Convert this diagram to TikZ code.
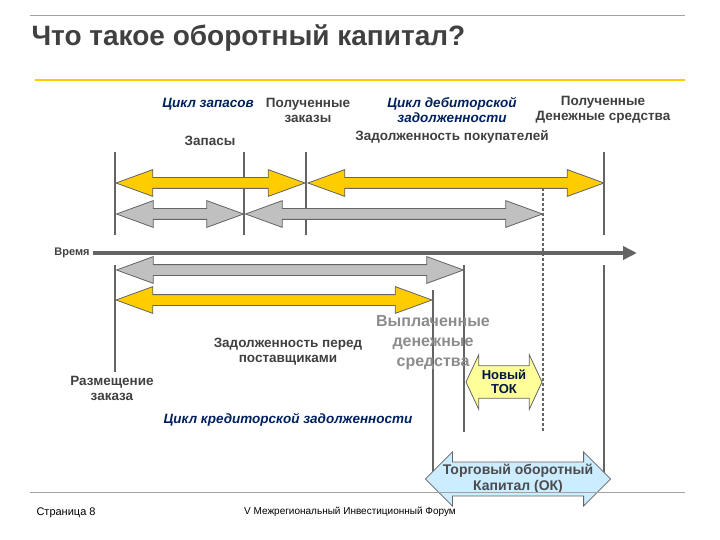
\documentclass[tikz,border=0pt]{standalone}
\usepackage{fontspec}
\setmainfont{Liberation Sans}
\usetikzlibrary{positioning,shapes.arrows,arrows.meta}
\definecolor{Amarillo}{RGB}{255,204,0}
\definecolor{Gris}{RGB}{192,192,192}
\definecolor{Borde}{RGB}{100,100,100}
\definecolor{Azul}{RGB}{0,32,96}
\definecolor{Celeste}{RGB}{204,236,255}
\definecolor{Limon}{RGB}{255,255,153}
\tikzstyle{Flecha}=[double arrow, draw=Borde, thick, inner xsep=0pt, inner ysep=5pt, double arrow head extend=8pt, double arrow tip angle=40, anchor=center]
\tikzstyle{FlechaAm}=[Flecha, fill=Amarillo]
\tikzstyle{FlechaGr}=[Flecha, fill=Gris]
\tikzstyle{Linea}=[draw=Borde, line width=2.5pt]
\tikzstyle{Etiqueta}=[font=\fontsize{13.5}{15}\selectfont\bfseries, text=black!75, align=center]
\tikzstyle{Ciclo}=[font=\fontsize{13.5}{15}\selectfont\bfseries\itshape, text=Azul, align=center]

\begin{document}
\begin{tikzpicture}[x=1pt,y=-1pt]
			\useasboundingbox (0,0) rectangle (720,540);
			%Cabecera
			\draw[Borde!60, thin] (30,15) -- (685,15);
			\node[anchor=west, font=\fontsize{28}{30}\selectfont\bfseries, text=black!75] (titulo) at (28,38) {Что такое оборотный капитал?};
			\draw[Amarillo, line width=1.5pt] (35,80) -- (685,80);

			%Lineas verticales
			\draw[Linea] (115,152) -- (115,235);
			\draw[Linea] (244,152) -- (244,235);
			\draw[Linea] (306,152) -- (306,235);
			\draw[Linea] (604,152) -- (604,235);
			\draw[Linea] (115,265) -- (115,372);
			\draw[Linea] (464,265) -- (464,432);
			\draw[Linea] (433,290) -- (433,480);
			\draw[Linea] (604,265) -- (604,480);
			\draw[Borde, line width=2.5pt, dashed, dash pattern=on 3pt off 2pt] (543,183) -- (543,432);

			%Tiempo
			\node[Etiqueta, font=\fontsize{11}{12}\selectfont\bfseries] (tiempo) at (72,253) {Время};
			\coordinate (fin) at (637,253);
			\draw[draw=Borde, line width=4pt, -{Triangle[length=14pt,width=13pt]}] (tiempo.east) -- (fin);

			%Flechas
			\node[FlechaAm, minimum height=189pt] (inventario) at (210.5,183) {};
			\node[FlechaAm, minimum height=296pt] (cobro) at (456,183) {};
			\node[FlechaGr, minimum height=127pt] (gris1) at (180,214) {};
			\node[FlechaGr, minimum height=297pt] (gris2) at (394,214) {};
			\node[FlechaGr, minimum height=347pt] (gris3) at (290,270) {};
			\node[FlechaAm, minimum height=316pt] (pago) at (274,300) {};
			\node[double arrow, draw=Borde, thick, fill=Limon, inner xsep=3pt, inner ysep=4pt, minimum height=76pt, double arrow head extend=11pt, double arrow tip angle=130, font=\fontsize{13}{14}\selectfont\bfseries, text=Azul!70!black, align=center] (tok) at (504,382) {Новый\\ТОК};
			\node[double arrow, draw=Borde, thick, fill=Celeste, inner xsep=0pt, inner ysep=2pt, minimum height=165pt, double arrow head extend=10pt, double arrow tip angle=90, font=\fontsize{14}{16}\selectfont\bfseries, text=black!70, align=center] (ok) at (518,479) {Торговый оборотный\\Капитал (ОК)};

			%Etiquetas
			\node[Ciclo] (ciclo_inv) at (208,104) {Цикл запасов};
			\node[Etiqueta] (pedidos) at (308,110) {Полученные\\заказы};
			\node[Ciclo] (ciclo_cob) at (452,110) {Цикл дебиторской\\задолженности};
			\node[Etiqueta] (cobrado) at (603,110) {Полученные\\Денежные средства};
			\node[Etiqueta] (stock) at (210,141) {Запасы};
			\node[Etiqueta] (deudores) at (452,137) {Задолженность покупателей};
			\node[Etiqueta] (proveedores) at (288,352) {Задолженность перед\\поставщиками};
			\node[Etiqueta, font=\fontsize{16}{20}\selectfont\bfseries, text=black!45] (pagado) at (433,343) {Выплаченные\\денежные\\средства};
			\node[Etiqueta] (pedido) at (112,388) {Размещение\\заказа};
			\node[Ciclo] (ciclo_pag) at (288,420) {Цикл кредиторской задолженности};

			%Pie
			\draw[Borde!60, thin] (30,492) -- (685,492);
			\node[anchor=west, font=\fontsize{11}{12}\selectfont] (pagina) at (33,513) {Страница 8};
			\node[font=\fontsize{10}{12}\selectfont] (foro) at (350,512) {V Межрегиональный Инвестиционный Форум};
\end{tikzpicture}
\end{document}
